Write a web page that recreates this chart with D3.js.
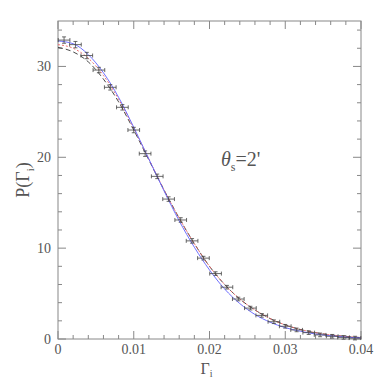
<!DOCTYPE html>
<html>
<head>
<meta charset="utf-8">
<script src="https://cdn.jsdelivr.net/npm/d3@7"></script>
<style>
  body { margin: 0; background: #fff; }
  svg text { font-family: "Times New Roman", Times, "Liberation Serif", "DejaVu Serif", "Noto Serif", serif; }
</style>
</head>
<body>
<svg width="381" height="381"></svg>
<script>
  // measured histogram points
  const binX = [0.0008, 0.0023, 0.0038, 0.0054, 0.0069, 0.0085, 0.0100, 0.0115, 0.0131, 0.0146,
    0.0162, 0.0177, 0.0192, 0.0208, 0.0223, 0.0238, 0.0254, 0.0269, 0.0285, 0.0300,
    0.0315, 0.0331, 0.0346, 0.0362, 0.0377, 0.0392]
  const binY = [32.9, 32.4, 31.2, 29.6, 27.7, 25.5, 23.0, 20.4, 17.9, 15.4,
    13.1, 10.8, 8.9, 7.2, 5.7, 4.4, 3.4, 2.6, 1.9, 1.4,
    1.0, 0.7, 0.45, 0.3, 0.18, 0.1]
  const binHalf = 0.00077
  const binErr = [0.35, 0.35, 0.35, 0.3, 0.3, 0.3, 0.3, 0.3, 0.25, 0.25,
    0.25, 0.25, 0.2, 0.2, 0.2, 0.15, 0.15, 0.15, 0.1, 0.1,
    0.1, 0.1, 0.08, 0.08, 0.06, 0.05]

  // model curves, sampled every 0.002
  const curveX = [0, 0.002, 0.004, 0.006, 0.008, 0.010, 0.012, 0.014, 0.016, 0.018, 0.020,
    0.022, 0.024, 0.026, 0.028, 0.030, 0.032, 0.034, 0.036, 0.038, 0.040]
  const blueY = [32.8, 32.5, 31.3, 29.3, 26.6, 23.3, 19.8, 16.3, 13.0, 10.1, 7.6,
    5.5, 3.9, 2.7, 1.85, 1.25, 0.85, 0.55, 0.35, 0.2, 0.12]
  const redY = [32.4, 32.0, 30.9, 29.0, 26.4, 23.2, 19.8, 16.4, 13.3, 10.5, 8.0,
    6.0, 4.4, 3.2, 2.25, 1.55, 1.05, 0.7, 0.45, 0.28, 0.16]
  const blackY = [32.1, 31.6, 30.5, 28.6, 26.1, 23.0, 19.7, 16.4, 13.3, 10.5, 8.0,
    6.0, 4.4, 3.2, 2.25, 1.55, 1.05, 0.7, 0.45, 0.28, 0.16]

  const xTicks = [0, 0.01, 0.02, 0.03, 0.04]
  const yTicks = [0, 10, 20, 30]

  const margin = { left: 58, right: 20, top: 21, bottom: 42 }
  const width = 381, height = 381
  const svg = d3.select('svg')

  const x = d3.scaleLinear().domain([0, 0.04]).range([margin.left, width - margin.right])
  const y = d3.scaleLinear().domain([0, 35]).range([height - margin.bottom, margin.top])

  const axisColor = '#888'
  const textColor = '#555'

  // frame
  svg.append('rect')
    .attr('x', x(0)).attr('y', y(35))
    .attr('width', x(0.04) - x(0)).attr('height', y(0) - y(35))
    .attr('fill', 'none').attr('stroke', axisColor).attr('stroke-width', 1)

  // inward ticks on all four sides
  const ticksG = svg.append('g').attr('stroke', axisColor).attr('stroke-width', 1)
  d3.range(0, 0.0401, 0.002).forEach((v, i) => {
    const len = i % 5 === 0 ? 8 : 4
    ticksG.append('line').attr('x1', x(v)).attr('x2', x(v)).attr('y1', y(0)).attr('y2', y(0) - len)
    ticksG.append('line').attr('x1', x(v)).attr('x2', x(v)).attr('y1', y(35)).attr('y2', y(35) + len)
  })
  d3.range(0, 35.01, 2).forEach(v => {
    const len = v % 10 === 0 ? 8 : 4
    ticksG.append('line').attr('y1', y(v)).attr('y2', y(v)).attr('x1', x(0)).attr('x2', x(0) + len)
    ticksG.append('line').attr('y1', y(v)).attr('y2', y(v)).attr('x1', x(0.04)).attr('x2', x(0.04) - len)
  })

  svg.append('g').selectAll('text').data(xTicks).enter().append('text')
    .attr('x', d => x(d)).attr('y', y(0) + 15)
    .attr('text-anchor', 'middle').attr('font-size', 14).attr('fill', textColor)
    .text(d => d === 0 ? '0' : d3.format('.2f')(d))
  svg.append('g').selectAll('text').data(yTicks).enter().append('text')
    .attr('x', x(0) - 7).attr('y', d => y(d) + 5)
    .attr('text-anchor', 'end').attr('font-size', 14).attr('fill', textColor)
    .text(d => d)

  // curves
  const line = yArr => d3.line()
    .x((d, i) => x(curveX[i]))
    .y((d, i) => y(yArr[i]))
    .curve(d3.curveMonotoneX)(yArr)
  svg.append('path').attr('d', line(blackY)).attr('fill', 'none')
    .attr('stroke', '#333').attr('stroke-width', 0.9).attr('stroke-dasharray', '5,3')
  svg.append('path').attr('d', line(redY)).attr('fill', 'none')
    .attr('stroke', '#f06060').attr('stroke-width', 0.9).attr('stroke-dasharray', '2,2')
  svg.append('path').attr('d', line(blueY)).attr('fill', 'none')
    .attr('stroke', '#6060ff').attr('stroke-width', 0.9)

  // error bars
  const eb = svg.append('g').attr('stroke', '#444').attr('stroke-width', 0.8)
  binX.forEach((bx, i) => {
    const cx = x(bx), cy = y(binY[i])
    eb.append('line').attr('x1', x(bx - binHalf)).attr('x2', x(bx + binHalf)).attr('y1', cy).attr('y2', cy)
    eb.append('line').attr('x1', x(bx - binHalf)).attr('x2', x(bx - binHalf)).attr('y1', cy - 2).attr('y2', cy + 2)
    eb.append('line').attr('x1', x(bx + binHalf)).attr('x2', x(bx + binHalf)).attr('y1', cy - 2).attr('y2', cy + 2)
    const e = Math.max(binErr[i], 0.2)
    eb.append('line').attr('x1', cx).attr('x2', cx).attr('y1', y(binY[i] - e)).attr('y2', y(binY[i] + e))
    eb.append('line').attr('x1', cx - 2).attr('x2', cx + 2).attr('y1', y(binY[i] - e)).attr('y2', y(binY[i] - e))
    eb.append('line').attr('x1', cx - 2).attr('x2', cx + 2).attr('y1', y(binY[i] + e)).attr('y2', y(binY[i] + e))
  })

  // axis titles
  const xl = svg.append('text').attr('x', (x(0) + x(0.04)) / 2 - 3).attr('y', 374)
    .attr('text-anchor', 'middle').attr('font-size', 16).attr('fill', textColor)
  xl.append('tspan').text('Γ')
  xl.append('tspan').attr('font-size', 10).attr('dy', 3).text('i')

  const yl = svg.append('text').attr('transform', 'translate(29,180) rotate(-90)')
    .attr('text-anchor', 'middle').attr('font-size', 18).attr('fill', textColor)
  yl.append('tspan').text('P(Γ')
  yl.append('tspan').attr('font-size', 11).attr('dy', 5).text('i')
  yl.append('tspan').attr('dy', -5).text(')')

  const ann = svg.append('text').attr('x', 221).attr('y', 166).attr('font-size', 20).attr('fill', textColor)
  ann.append('tspan').attr('font-style', 'italic').text('θ')
  ann.append('tspan').attr('font-size', 12).attr('dy', 5).text('s')
  ann.append('tspan').attr('dy', -5).text('=2\'')
</script>
</body>
</html>
